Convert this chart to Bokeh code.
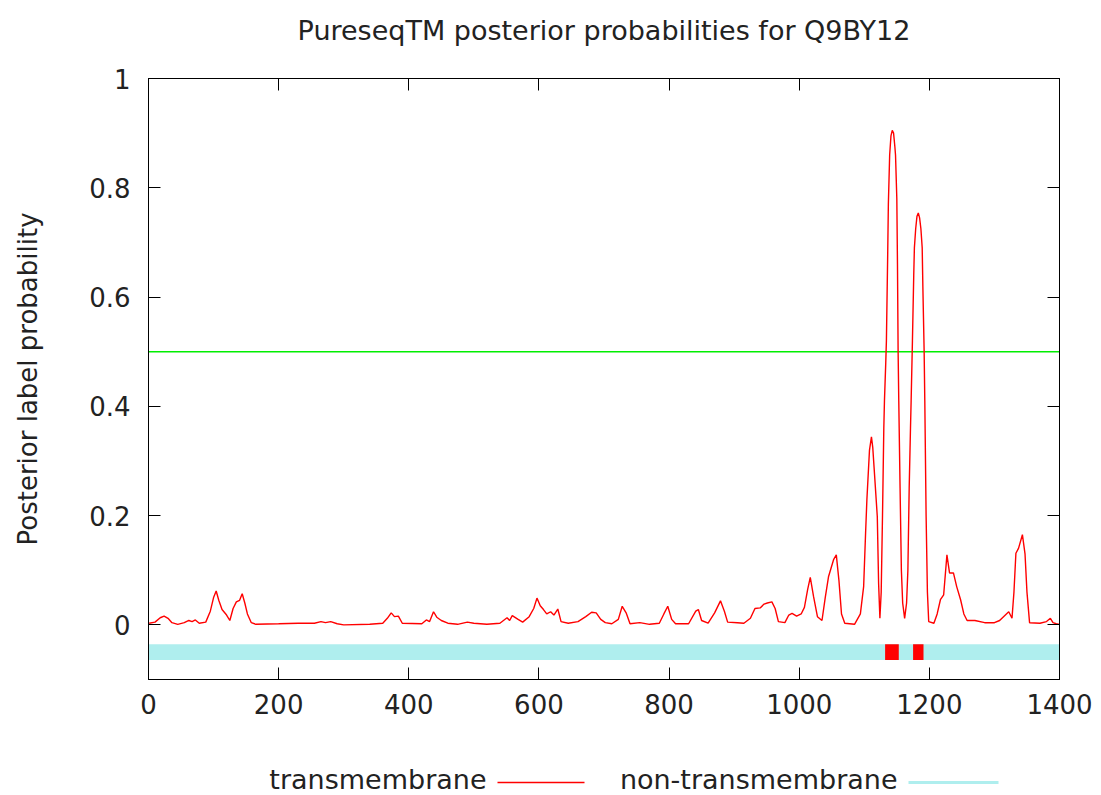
from bokeh.plotting import figure
from bokeh.layouts import column
from bokeh.models import Range1d, FixedTicker, LinearAxis
from bokeh.core.properties import value
from bokeh.embed import file_html
from bokeh.resources import INLINE

# ---- data ----
title_text = "PureseqTM posterior probabilities for Q9BY12"
y_label = "Posterior label probability"
legend_labels = ["transmembrane", "non-transmembrane"]
legend_colors = ["#ff0000", "#afeeee"]

seq_length = 1400
xticks = [0, 200, 400, 600, 800, 1000, 1200, 1400]
xtick_labels = ["0", "200", "400", "600", "800", "1000", "1200", "1400"]
yticks = [0, 0.2, 0.4, 0.6, 0.8, 1]
ytick_labels = ["0", "0.2", "0.4", "0.6", "0.8", "1"]
threshold = 0.5

residue = [1, 10, 18, 24, 30, 36, 45, 55, 62, 67, 72, 78, 88, 95, 100, 104, 108, 113,
           120, 125, 130, 135, 140, 144, 148, 152, 158, 165, 200, 230, 255, 265, 272,
           280, 290, 300, 340, 360, 367, 373, 378, 384, 390, 420, 427, 432, 438, 443,
           450, 460, 475, 490, 500, 520, 540, 551, 555, 559, 568, 575, 585, 592, 597,
           602, 607, 612, 618, 623, 629, 634, 645, 660, 672, 681, 688, 695, 702, 712,
           722, 728, 734, 740, 755, 770, 785, 792, 798, 804, 810, 830, 841, 845, 850,
           860, 870, 879, 885, 890, 905, 915, 925, 932, 940, 946, 951, 958, 963, 968,
           978, 984, 989, 996, 1003, 1008, 1013, 1017, 1022, 1028, 1035, 1040, 1045,
           1049, 1053, 1057, 1061, 1065, 1070, 1085, 1094, 1099, 1102, 1104, 1108, 1111,
           1113, 1115, 1120, 1122, 1124, 1126, 1128, 1130, 1131, 1133, 1134, 1136, 1137,
           1139, 1141, 1143, 1145, 1147, 1148, 1150, 1151, 1152, 1153, 1155, 1157, 1159,
           1162, 1165, 1167, 1169, 1171, 1172, 1174, 1176, 1177, 1179, 1181, 1183, 1185,
           1187, 1189, 1190, 1192, 1193, 1195, 1197, 1199, 1207, 1212, 1217, 1222, 1227,
           1231, 1237, 1242, 1248, 1253, 1258, 1270, 1285, 1300, 1308, 1314, 1322, 1327,
           1330, 1333, 1337, 1343, 1347, 1350, 1354, 1370, 1380, 1386, 1390, 1395, 1400]
probability = [0.003, 0.005, 0.013, 0.016, 0.012, 0.004, 0.001, 0.004, 0.008, 0.006, 0.009,
               0.003, 0.005, 0.025, 0.050, 0.062, 0.045, 0.028, 0.018, 0.008, 0.030, 0.042,
               0.045, 0.057, 0.040, 0.020, 0.004, 0.001, 0.002, 0.003, 0.003, 0.006, 0.004,
               0.006, 0.002, 0.000, 0.001, 0.003, 0.012, 0.022, 0.015, 0.016, 0.003, 0.002,
               0.009, 0.006, 0.024, 0.014, 0.008, 0.003, 0.001, 0.005, 0.003, 0.001, 0.003,
               0.013, 0.008, 0.017, 0.010, 0.005, 0.015, 0.030, 0.049, 0.035, 0.028, 0.020,
               0.024, 0.018, 0.029, 0.006, 0.003, 0.006, 0.015, 0.023, 0.022, 0.010, 0.004,
               0.002, 0.010, 0.034, 0.022, 0.002, 0.004, 0.001, 0.003, 0.020, 0.034, 0.010,
               0.002, 0.002, 0.025, 0.028, 0.008, 0.003, 0.022, 0.044, 0.025, 0.005, 0.004,
               0.003, 0.012, 0.030, 0.031, 0.038, 0.040, 0.042, 0.030, 0.006, 0.004, 0.018,
               0.021, 0.016, 0.020, 0.032, 0.065, 0.087, 0.052, 0.015, 0.008, 0.050, 0.088,
               0.104, 0.120, 0.128, 0.082, 0.020, 0.003, 0.001, 0.020, 0.070, 0.168, 0.229,
               0.320, 0.344, 0.325, 0.289, 0.198, 0.076, 0.012, 0.060, 0.200, 0.360, 0.410,
               0.480, 0.520, 0.680, 0.770, 0.860, 0.895, 0.905, 0.900, 0.875, 0.860, 0.780,
               0.660, 0.500, 0.410, 0.250, 0.100, 0.040, 0.012, 0.040, 0.100, 0.250, 0.360,
               0.410, 0.520, 0.640, 0.690, 0.725, 0.748, 0.754, 0.745, 0.725, 0.690, 0.620,
               0.500, 0.410, 0.200, 0.060, 0.006, 0.003, 0.020, 0.046, 0.055, 0.128, 0.095,
               0.095, 0.070, 0.046, 0.020, 0.008, 0.008, 0.004, 0.004, 0.008, 0.015, 0.024,
               0.012, 0.060, 0.131, 0.140, 0.165, 0.130, 0.060, 0.004, 0.003, 0.006, 0.012,
               0.004, 0.002, 0.001]

band_y = -0.05
band_height = 0.0287
tm_start = [1132, 1175]
tm_end = [1153, 1191]

FONT = "DejaVu Sans"
FS = "26px"
FS_BIG = "27px"
TXT = "#222222"

MAIN_H = 750
LEG_H = 795 - MAIN_H
FRAME_L, FRAME_R = 148, 1059

p = figure(width=1101, height=MAIN_H, output_backend="svg", toolbar_location=None,
           x_range=Range1d(0, 1400), y_range=Range1d(-0.1, 1),
           min_border_left=FRAME_L, min_border_right=1101 - FRAME_R, min_border_top=78,
           min_border_bottom=MAIN_H - 679,
           background_fill_color="white", border_fill_color="white")
p.grid.visible = False
p.outline_line_color = "black"
p.outline_line_width = 1

def style_axis(ax, ticks, labels):
    ax.ticker = FixedTicker(ticks=ticks)
    ax.major_tick_in = 12
    ax.major_tick_out = 0
    ax.minor_tick_line_color = None
    ax.major_tick_line_color = "black"
    ax.axis_line_color = "black"
    ax.major_label_text_font = FONT
    ax.major_label_text_color = TXT
    ax.major_label_text_font_size = FS
    ax.major_label_overrides = dict(zip(ticks, labels))

style_axis(p.xaxis[0], xticks, xtick_labels)
p.xaxis[0].major_label_standoff = 14
style_axis(p.yaxis[0], yticks, ytick_labels)
p.yaxis[0].major_label_standoff = 18
p.yaxis[0].axis_label = y_label
p.yaxis[0].axis_label_text_font = FONT
p.yaxis[0].axis_label_text_font_size = FS
p.yaxis[0].axis_label_text_font_style = "normal"
p.yaxis[0].axis_label_text_color = TXT
p.yaxis[0].axis_label_standoff = 43

# mirrored ticks (gnuplot style); the top one carries the chart title
ax_top = LinearAxis()
style_axis(ax_top, xticks, [""] * len(xticks))
ax_top.major_label_standoff = 0
ax_top.axis_label = title_text
ax_top.axis_label_text_font = FONT
ax_top.axis_label_text_font_size = FS_BIG
ax_top.axis_label_text_font_style = "normal"
ax_top.axis_label_text_color = TXT
ax_top.axis_label_standoff = 33
p.add_layout(ax_top, "above")
ax_right = LinearAxis()
style_axis(ax_right, yticks, [""] * len(yticks))
ax_right.major_label_standoff = 0
p.add_layout(ax_right, "right")

# threshold line
p.line(x=[0, seq_length], y=[threshold, threshold], line_color="#00ee00", line_width=1.5)

# non-transmembrane band and TM segments
p.hbar(y=[band_y], left=[0], right=[seq_length], height=band_height,
       fill_color=legend_colors[1], line_color=None)
p.hbar(y=[band_y] * len(tm_start), left=tm_start, right=tm_end, height=band_height,
       fill_color=legend_colors[0], line_color=None)

# posterior curve
p.line(x=residue, y=probability, line_color=legend_colors[0], line_width=1.4)

# ---- legend strip (gnuplot style: label followed by sample line) ----
# its frame is aligned with the main frame by the column layout, so its x range
# is expressed in page pixels
leg = figure(width=1101, height=LEG_H, output_backend="svg", toolbar_location=None,
             x_range=Range1d(FRAME_L, FRAME_R), y_range=Range1d(0, LEG_H),
             x_axis_type=None, y_axis_type=None,
             min_border_left=FRAME_L, min_border_right=1101 - FRAME_R,
             min_border_top=0, min_border_bottom=0,
             background_fill_color="white", border_fill_color="white")
leg.grid.visible = False
leg.outline_line_color = None
text_y = LEG_H - (779 - MAIN_H)
line_y = LEG_H - (782 - MAIN_H)
leg.text(x=[486, 897], y=[text_y, text_y], text=legend_labels,
         text_align="right", text_baseline="middle", text_font=value(FONT),
         text_font_size=value(FS_BIG), text_color=TXT)
leg.segment(x0=[497, 908], y0=[line_y, line_y], x1=[584, 998], y1=[line_y, line_y],
            line_color=legend_colors, line_width=[1.5, 3])

layout = column(p, leg, spacing=0)
open("out.html", "w").write(file_html(layout, INLINE))
